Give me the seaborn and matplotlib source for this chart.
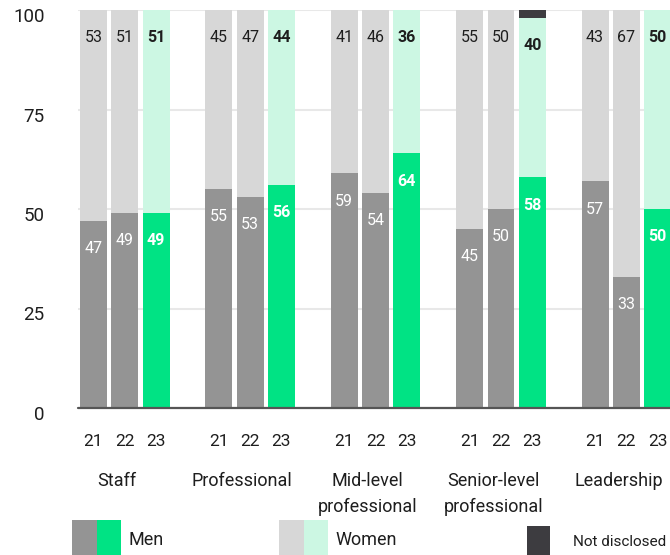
import pandas as pd
import matplotlib.pyplot as plt
import matplotlib.transforms as mtransforms
from matplotlib.patches import Rectangle
import seaborn as sns

# data (percent)
groups = ['Staff', 'Professional', 'Mid-level\nprofessional', 'Senior-level\nprofessional', 'Leadership']
years = ['21', '22', '23']
men = [[47, 49, 49], [55, 53, 56], [59, 54, 64], [45, 50, 58], [57, 33, 50]]
women = [[53, 51, 51], [45, 47, 44], [41, 46, 36], [55, 50, 40], [43, 67, 50]]
not_disclosed = [[0, 0, 0], [0, 0, 0], [0, 0, 0], [0, 0, 2], [0, 0, 0]]

# colours
c_men = '#949494'
c_women = '#d7d7d7'
c_men23 = '#00e384'
c_women23 = '#ccf7e3'
c_nd = '#3d3c40'
c_text = '#1e1e1e'

sns.set_style('white')
plt.rcParams['font.family'] = ['Roboto', 'DejaVu Sans']

rows = []
for g in range(len(groups)):
    for j, yr in enumerate(years):
        rows.append({'pos': 4 * g + j, 'year': yr, 'grp': g,
                     'men': men[g][j], 'women': women[g][j], 'nd': not_disclosed[g][j]})
df = pd.DataFrame(rows)
df['mw'] = df['men'] + df['women']
df['total'] = df['mw'] + df['nd']
df['k_men'] = df['year'].map(lambda y: 'm23' if y == '23' else 'm')
df['k_women'] = df['year'].map(lambda y: 'w23' if y == '23' else 'w')
df['k_nd'] = 'nd'

pal = {'m': c_men, 'm23': c_men23, 'w': c_women, 'w23': c_women23, 'nd': c_nd}

fig = plt.figure(figsize=(6.7, 5.55), dpi=100)
ax = fig.add_axes([78 / 670, 147 / 555, 592 / 670, 398 / 555])

bw = 0.86
# stacked look: draw totals first, then men+women, then men on top
for col, key in [('total', 'k_nd'), ('mw', 'k_women'), ('men', 'k_men')]:
    sns.barplot(data=df, x='pos', y=col, hue=key, palette=pal, native_scale=True,
                dodge=False, width=bw, errorbar=None, legend=False, ax=ax,
                linewidth=0, saturation=1)

# value labels
for _, r in df.iterrows():
    bold = 'bold' if r['year'] == '23' else 'normal'
    ax.text(r['pos'], r['men'] - 7, str(r['men']), ha='center', va='center',
            fontsize=11.5, color='white', fontweight=bold)
    ax.text(r['pos'], r['mw'] - 7, str(r['women']), ha='center', va='center',
            fontsize=11.5, color=c_text, fontweight=bold)

ax.set_xlim(-0.49, 18.39)
ax.set_ylim(0, 100)
ax.set_yticks([0, 25, 50, 75, 100])
ax.yaxis.grid(True, color='#e8e8e8', linewidth=1.5)
ax.set_axisbelow(True)
ax.axhline(0, color='#555555', linewidth=1.6, clip_on=False, zorder=5)
for s in ax.spines.values():
    s.set_visible(False)

ax.set_xticks(df['pos'])
ax.set_xticklabels(df['year'])
ax.set_xlabel('')
ax.set_ylabel('')
ax.tick_params(axis='x', length=0, pad=19, labelsize=12.5, labelcolor=c_text)
ax.tick_params(axis='y', length=0, pad=24, labelsize=13.5, labelcolor=c_text)
off = mtransforms.ScaledTranslation(0, -0.05, fig.dpi_scale_trans)
for lab in ax.get_yticklabels():
    lab.set_transform(lab.get_transform() + off)

# group names
trans = mtransforms.blended_transform_factory(ax.transData, ax.transAxes)
for g, name in enumerate(groups):
    ax.text(4 * g + 1 - 0.25, -0.16, name, transform=trans, ha='center', va='top',
            fontsize=13, color=c_text, linespacing=1.55)

# legend
H = 555
W = 670
def box(x0, x1, y0, color):
    fig.patches.append(Rectangle((x0 / W, 0), (x1 - x0) / W, (H - y0) / H,
                                 transform=fig.transFigure, color=color, lw=0))

box(72, 97, 520, c_men)
box(97, 121, 520, c_men23)
fig.text(128 / W, 15 / H, 'Men', fontsize=13, color=c_text, va='center')
box(279, 304, 520, c_women)
box(304, 328, 520, c_women23)
fig.text(335 / W, 15 / H, 'Women', fontsize=13, color=c_text, va='center')
box(527, 550, 526, c_nd)
fig.text(573 / W, 13 / H, 'Not disclosed', fontsize=11, color=c_text, va='center')

fig.savefig('out.png', dpi=100)
